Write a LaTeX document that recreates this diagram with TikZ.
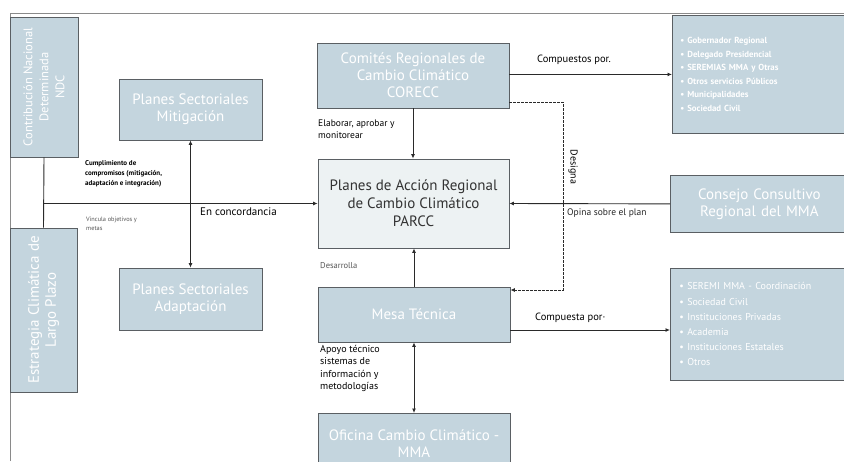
\documentclass[tikz,border=0pt]{standalone}
\usepackage{fontspec}
\setmainfont{PT Sans}
\setsansfont{PT Sans}
\usetikzlibrary{arrows.meta}
\definecolor{boxfill}{HTML}{C4D5DE}
\definecolor{boxline}{HTML}{5A5F63}
\definecolor{parccfill}{HTML}{EDF2F3}
\definecolor{linecol}{HTML}{2A2A2A}
\definecolor{framecol}{HTML}{8A8A8A}
\definecolor{lblgray}{HTML}{555555}
\begin{document}
\begin{tikzpicture}[x=1pt,y=-1pt,
  bx/.style={draw=boxline, line width=0.8pt, fill=boxfill, text=white, align=center,
    font=\fontsize{15}{17}\selectfont, inner sep=2pt},
  lst/.style={draw=boxline, line width=0.8pt, fill=boxfill, text=white, align=left,
    inner sep=5pt, text width=160pt},
  conn/.style={draw=linecol, line width=0.9pt},
  arr/.style={conn, -{Latex[length=4.5pt,width=4pt]}},
  darr/.style={conn, {Latex[length=4.5pt,width=4pt]}-{Latex[length=4.5pt,width=4pt]}},
  lbl/.style={font=\fontsize{10}{11.5}\selectfont, text=black, inner sep=0pt, align=left},
  slbl/.style={font=\bfseries\fontsize{7}{10}\selectfont, text=black, inner sep=0pt, align=left},
]
\useasboundingbox (0,0) rectangle (844,461);
\fill[white] (0,0) rectangle (844,461);
% page frame
\draw[framecol, line width=0.8pt] (10,461) -- (10,13) -- (844,13);

% left rotated boxes
\node[bx, font=\fontsize{12.5}{16}\selectfont, minimum width=140pt, minimum height=68pt, rotate=90] (ndc) at (44,87)
  {Contribución Nacional\\Determinada\\NDC};
\node[bx, minimum width=164pt, minimum height=67pt, rotate=90] (estr) at (43.5,310)
  {Estrategia Climática de\\Largo Plazo};

% sectoral plans
\node[bx, minimum width=143pt, minimum height=61pt] (mit) at (190.5,109.5)
  {Planes Sectoriales\\Mitigación};
\node[bx, minimum width=143pt, minimum height=62pt] (ada) at (190.5,299)
  {Planes Sectoriales\\Adaptación};

% central column
\node[bx, minimum width=192pt, minimum height=65pt] (corecc) at (413,75.5)
  {Comités Regionales de\\Cambio Climático\\CORECC};
\node[draw=boxline, line width=0.8pt, fill=parccfill, text=black!80, align=center,
  font=\fontsize{15}{18}\selectfont, minimum width=191pt, minimum height=89pt] (parcc) at (413.5,203.5)
  {Planes de Acción Regional\\de Cambio Climático\\PARCC};
\node[bx, minimum width=192pt, minimum height=55pt] (mesa) at (414,314.5) {Mesa Técnica};
\node[bx, minimum width=192pt, minimum height=60pt, anchor=north] (ofi) at (414,413)
  {Oficina Cambio Climático -\\MMA};

% right boxes
\node[lst, font=\bfseries\fontsize{8.8}{13.6}\selectfont, minimum width=176pt, minimum height=118pt, anchor=north west] (l1) at (672,15)
  {• Gobernador Regional\\• Delegado Presidencial\\• SEREMIAS MMA y Otras\\• Otros servicios Públicos\\• Municipalidades\\• Sociedad Civil};
\node[bx, minimum width=178pt, minimum height=57pt, anchor=north west, text width=168pt] (cons) at (670,175)
  {Consejo Consultivo\\Regional del MMA};
\node[lst, font=\fontsize{10}{15.2}\selectfont, minimum width=178pt, minimum height=112pt, anchor=north west] (l2) at (670,268)
  {• SEREMI MMA - Coordinación\\• Sociedad Civil\\• Instituciones Privadas\\• Academia\\• Instituciones Estatales\\• Otros};

% left connectors
\draw[conn] (ndc.west) -- (estr.east);
\draw[arr] (ndc.west |- parcc.west) -- (parcc.west);
\draw[darr] (mit.south) -- (ada.north);

% central connectors
\draw[arr] (corecc.south) -- (corecc.south |- parcc.north);
\draw[arr] (mesa.north) -- (mesa.north |- parcc.south);
\draw[darr] (mesa.south) -- (ofi.north);

% right connectors
\draw[arr] (corecc.east |- l1.west) -- (l1.west);
\coordinate (d1) at (563,102);
\coordinate (d2) at (563,290);
\draw[conn, dashed, dash pattern=on 2.5pt off 1.5pt, -{Latex[length=4.5pt,width=4pt]}]
  (corecc.east |- d1) -- (d1) -- (d2) -- (d2 -| mesa.east);
\draw[arr] (cons.west) -- (parcc.east);
\coordinate (m1) at (514,330);
\draw[arr] (mesa.east |- m1) -- (m1 -| l2.west);

% labels
\node[slbl, anchor=north west] (lc) at (85,160)
  {Cumplimiento de\\compromisos (mitigación,\\adaptación e integración)};
\node[slbl, anchor=north west, text=lblgray, font=\fontsize{6.3}{9}\selectfont] (lv) at (86,217)
  {Vincula objetivos y\\metas};
\node[lbl, anchor=north west, font=\fontsize{11}{13}\selectfont] (le) at (200,208) {En concordancia};
\node[lbl, anchor=north west, font=\fontsize{9.5}{11.5}\selectfont] (la) at (318,120)
  {Elaborar, aprobar y\\monitorear};
\node[lbl, anchor=north west, text=lblgray, font=\fontsize{8.5}{10}\selectfont] (ld) at (320,262) {Desarrolla};
\node[lbl, anchor=north west, font=\fontsize{10}{12.3}\selectfont] (lt) at (320,345)
  {Apoyo técnico\\sistemas de\\información y\\metodologías};
\node[lbl, anchor=south west, font=\fontsize{10.5}{12}\selectfont] (lcp) at (537,65) {Compuestos por.};
\node[lbl, rotate=-90, font=\fontsize{10}{12}\selectfont] (lds) at (573,167) {Designa};
\node[lbl, anchor=north west, font=\fontsize{9.5}{11}\selectfont, text=black!85] (lo) at (567,209) {Opina sobre el plan};
\node[lbl, anchor=south west, font=\fontsize{10.5}{12}\selectfont] (lcm) at (535,323) {Compuesta por·};
\end{tikzpicture}
\end{document}
